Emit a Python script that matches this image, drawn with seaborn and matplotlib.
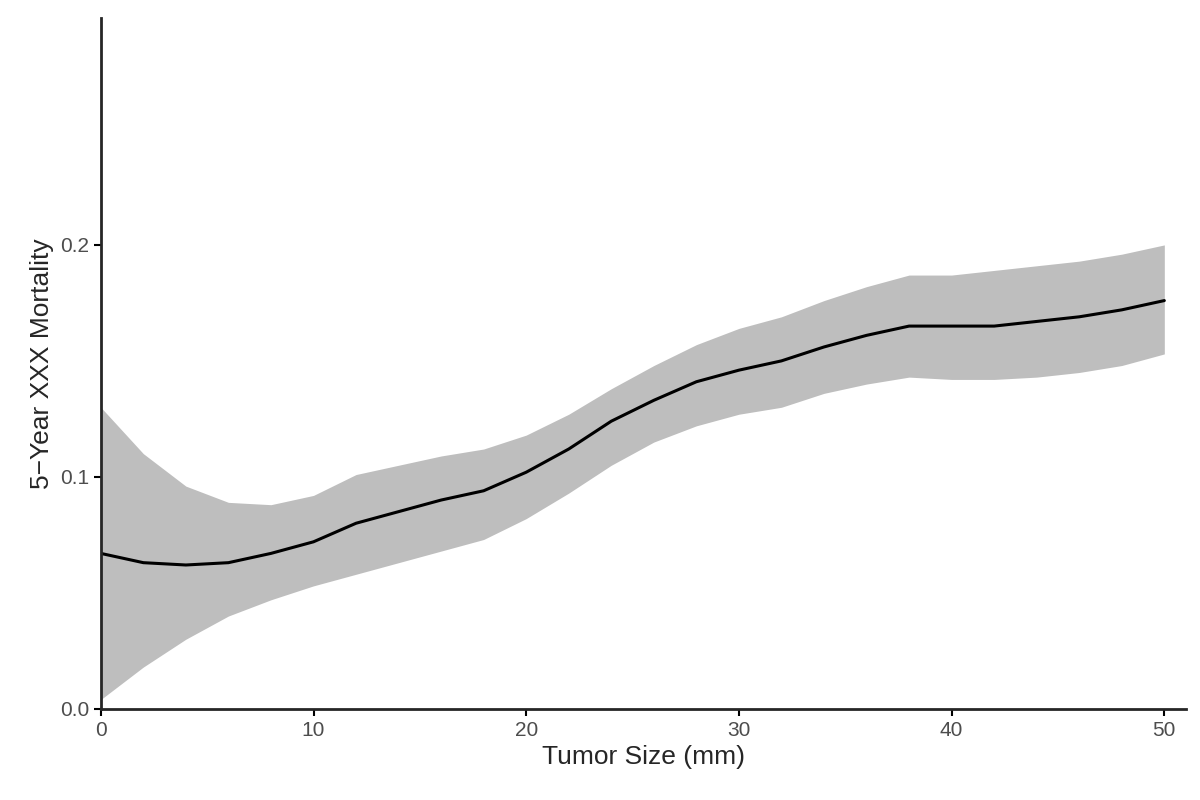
import matplotlib
matplotlib.use("Agg")
import matplotlib.pyplot as plt
import seaborn as sns
import pandas as pd

size_mm = [0, 2, 4, 6, 8, 10, 12, 14, 16, 18, 20, 22, 24, 26, 28, 30, 32, 34, 36, 38, 40, 42, 44, 46, 48, 50]
mortality = [0.067, 0.063, 0.062, 0.063, 0.067, 0.072, 0.080, 0.085, 0.090, 0.094, 0.102, 0.112, 0.124, 0.133,
             0.141, 0.146, 0.150, 0.156, 0.161, 0.165, 0.165, 0.165, 0.167, 0.169, 0.172, 0.176]
upper = [0.130, 0.110, 0.096, 0.089, 0.088, 0.092, 0.101, 0.105, 0.109, 0.112, 0.118, 0.127, 0.138, 0.148,
         0.157, 0.164, 0.169, 0.176, 0.182, 0.187, 0.187, 0.189, 0.191, 0.193, 0.196, 0.200]
lower = [0.004, 0.018, 0.030, 0.040, 0.047, 0.053, 0.058, 0.063, 0.068, 0.073, 0.082, 0.093, 0.105, 0.115,
         0.122, 0.127, 0.130, 0.136, 0.140, 0.143, 0.142, 0.142, 0.143, 0.145, 0.148, 0.153]

df = pd.DataFrame({"size": size_mm, "mort": mortality, "lo": lower, "hi": upper})

sns.set_style("ticks")
plt.rcParams["font.family"] = ["Liberation Sans", "DejaVu Sans"]

fig, ax = plt.subplots(figsize=(12, 8), dpi=100)
ax.fill_between(df["size"], df["lo"], df["hi"], color="#bebebe", linewidth=0)
sns.lineplot(data=df, x="size", y="mort", color="black", linewidth=2.2, ax=ax)

ax.set_xlim(0, 51)
ax.set_ylim(0, 0.298)
ax.set_xticks([0, 10, 20, 30, 40, 50])
ax.set_yticks([0.0, 0.1, 0.2])
ax.set_yticklabels(["0.0", "0.1", "0.2"])
ax.tick_params(labelsize=15, colors="black", labelcolor="#4d4d4d", width=1.5, length=5)
ax.set_xlabel("Tumor Size (mm)", fontsize=19)
ax.set_ylabel("5\u2212Year XXX Mortality", fontsize=19)
sns.despine(ax=ax)
for s in ["left", "bottom"]:
    ax.spines[s].set_linewidth(2)
ax.spines["left"].set_bounds(0, 0.298)

fig.subplots_adjust(left=0.084, right=0.988, top=0.978, bottom=0.114)
fig.savefig("out.png")
